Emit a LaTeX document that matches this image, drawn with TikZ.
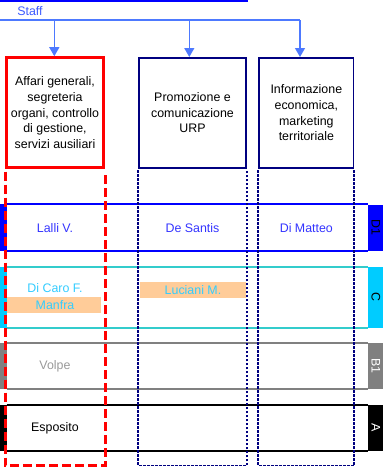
\documentclass[tikz,border=0pt]{standalone}
\usepackage{fontspec}
\setmainfont{Liberation Sans}
\usetikzlibrary{arrows.meta}
\definecolor{navy}{RGB}{0,0,128}
\definecolor{red}{RGB}{255,0,0}
\definecolor{staffblue}{RGB}{77,121,255}
\definecolor{stafftext}{RGB}{60,90,255}
\definecolor{textblue}{RGB}{51,51,255}
\definecolor{cyanline}{RGB}{51,204,204}
\definecolor{cyantab}{RGB}{0,204,255}
\definecolor{cyantext}{RGB}{51,204,255}
\definecolor{grayline}{RGB}{128,128,128}
\definecolor{graytext}{RGB}{153,153,153}
\definecolor{peach}{RGB}{255,204,153}

\begin{document}
\begin{tikzpicture}[x=1pt, y=-1pt,
	every node/.style={font=\fontsize{12.4}{15.7}\selectfont, inner sep=0pt},
	unit/.style 2 args={
		draw=#1,
		line width=#2,
		minimum height=109.8pt,
		align=center},
	band/.style={fill=peach, minimum height=15.7pt},
	staffarrow/.style={staffblue, line width=1.3pt, -{Triangle[width=10pt,length=9pt]}},
	reddash/.style={red, line width=3pt, dash pattern=on 9pt off 4pt},
	navydot/.style={navy, line width=1.8pt, dash pattern=on 2.7pt off 1.3pt}]
	\useasboundingbox (0,0) rectangle (383,472);
	% draw staff line and bus
	\draw[blue, line width=2pt] (0,0.8) -- (248,0.8);
	\node[text=stafftext] (staff) at (30,11) {Staff};
	\draw[staffblue, line width=1.3pt] (0,20) -- (300,20);
	% draw unit boxes
	\node[unit={red}{3pt}, minimum width=97pt] (u1) at (55,112.6)
		{Affari generali,\\segreteria\\organi, controllo\\di gestione,\\servizi ausiliari};
	\node[unit={navy}{1.7pt}, minimum width=106.6pt] (u2) at (192.5,112.75)
		{Promozione e\\comunicazione\\URP};
	\node[unit={navy}{1.7pt}, minimum width=94.3pt] (u3) at (306.35,112.75)
		{Informazione\\economica,\\marketing\\territoriale};
	% draw staff arrows
	\foreach \u/\x in {1/54.3, 2/189.3, 3/300} {
		\coordinate (s\u) at (\x,20);
		\draw[staffarrow] (s\u) -- (s\u |- u\u.north);
	}
	% draw category rows with side tabs
	\foreach \lab/\mid/\h/\col/\tabcol/\tabtext in {D1/227.85/46.7/blue/blue/black,
		C/297.2/61/cyanline/cyantab/black,
		B1/365.85/46.3/grayline/grayline/white,
		A/427.85/45.7/black/black/white} {
		\node[minimum width=361.3pt, minimum height=\h pt] (r\lab) at (187.35,\mid) {};
		\fill[\tabcol] (r\lab.north west) rectangle ([xshift=-7pt]r\lab.south west);
		\node[fill=\tabcol, minimum width=15pt, minimum height=\h pt, anchor=west, text=\tabtext] (t\lab) at (r\lab.east) {\rotatebox{-90}{\lab}};
		\draw[\col, line width=2pt] (r\lab.north west) -- (r\lab.north east);
		\draw[\col, line width=2pt] (r\lab.south west) -- (r\lab.south east);
	}
	% draw names in rows
	\node[text=textblue] (lalli) at (u1 |- rD1) {Lalli V.};
	\node[text=textblue] (desantis) at (u2 |- rD1) {De Santis};
	\node[text=textblue] (dimatteo) at (u3 |- rD1) {Di Matteo};
	\node[band, minimum width=94pt] (manfraband) at (54,304.85) {};
	\node[text=cyantext] (dicaro) at (55,288) {Di Caro F.};
	\node[text=cyantext] (manfra) at (55,305) {Manfra};
	\node[band, minimum width=106pt, text=cyantext] (luciani) at (193,289.85) {Luciani M.};
	\node[text=graytext] (volpe) at (u1 |- rB1) {Volpe};
	\node[text=black] (esposito) at (u1 |- rA) {Esposito};
	% draw column guides down to the bottom
	\coordinate (bot) at (0,465.5);
	\draw[reddash] ([yshift=-2.5pt]u1.south west) -- (u1.south west |- bot) -- (u1.south east |- bot) -- ([yshift=-2.5pt]u1.south east);
	\foreach \u in {2,3} {
		\draw[navydot] ([yshift=-1.5pt]u\u.south west) -- (u\u.south west |- bot) -- (u\u.south east |- bot) -- ([yshift=-1.5pt]u\u.south east);
	}
\end{tikzpicture}
\end{document}
